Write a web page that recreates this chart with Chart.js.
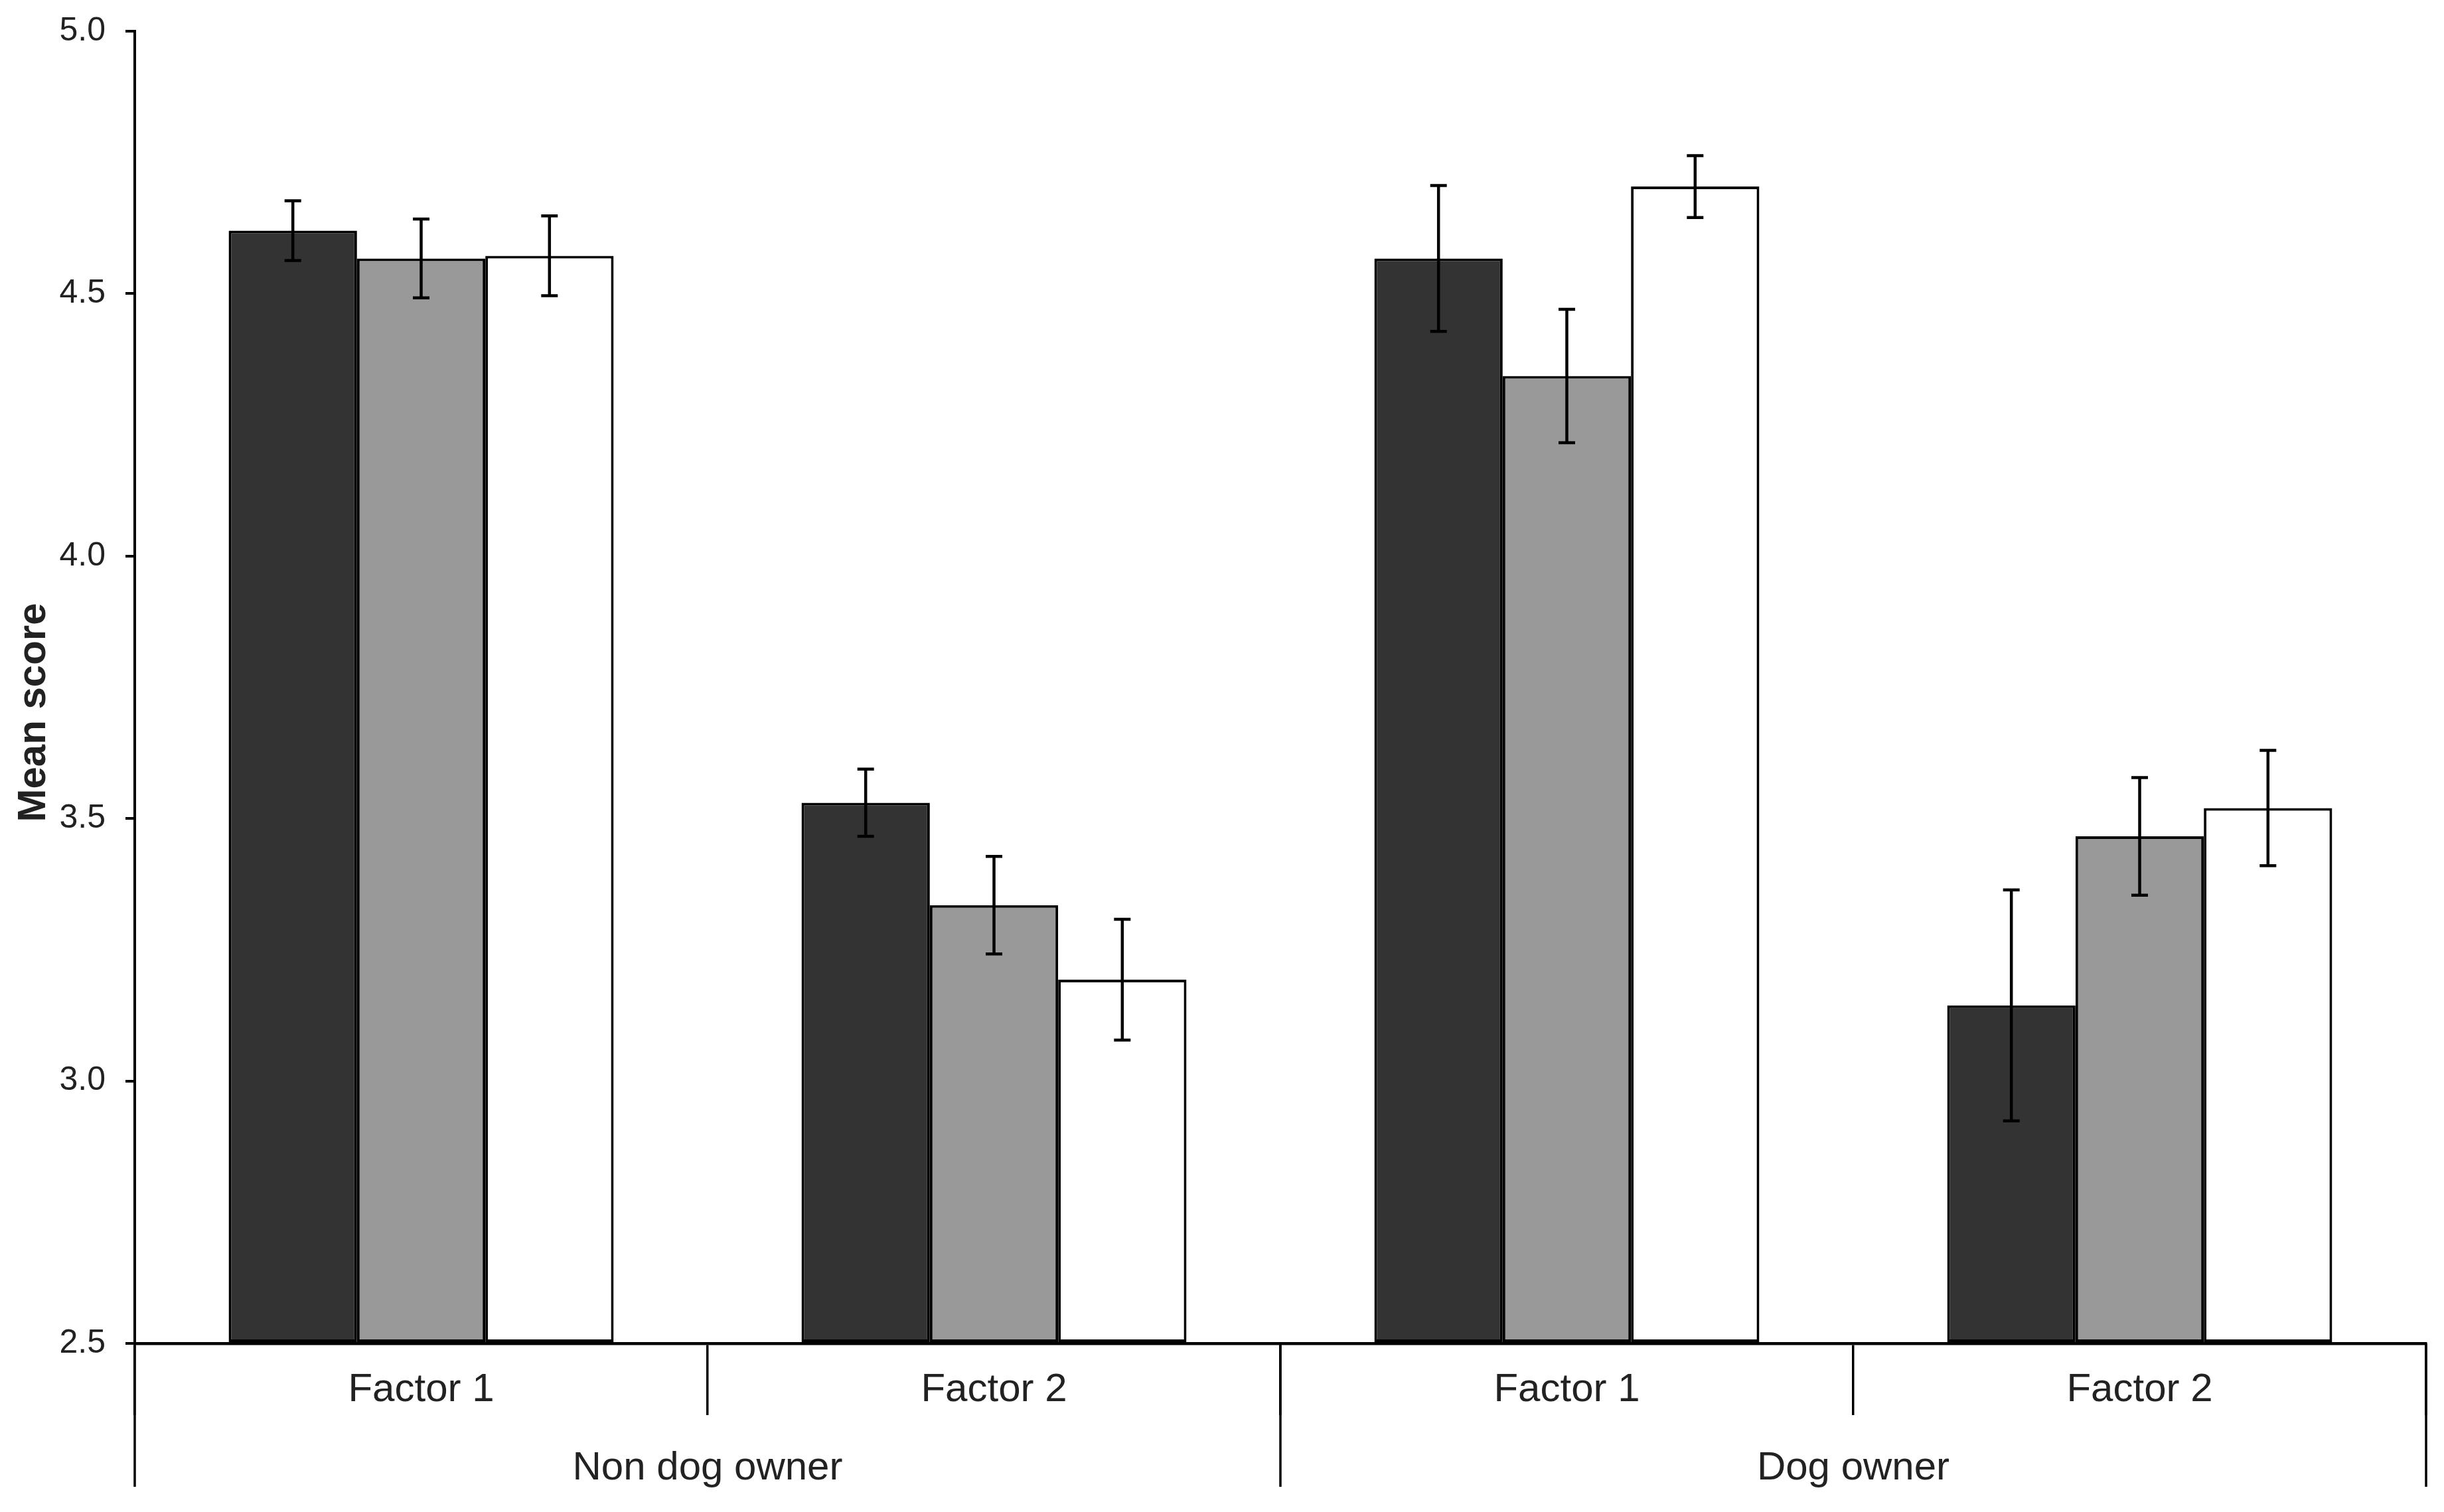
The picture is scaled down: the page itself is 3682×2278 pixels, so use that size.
<!DOCTYPE html>
<html>
<head>
<meta charset="utf-8">
<script src="https://cdn.jsdelivr.net/npm/chart.js@4.4.1/dist/chart.umd.min.js"></script>
<style>
  html, body { margin: 0; padding: 0; background: #fff; }
  canvas { display: block; }
</style>
</head>
<body>
<canvas id="chart" width="3682" height="2278"></canvas>
<script>
// categories along the x axis, and the owner groups under them
const categories = ["Factor 1", "Factor 2", "Factor 1", "Factor 2"];
const groups = ["Non dog owner", "Dog owner"];

// mean scores and error bar half-lengths, one array per bar shade
const darkMeans = [4.62, 3.53, 4.567, 3.144];
const darkErr = [0.057, 0.064, 0.139, 0.22];
const grayMeans = [4.567, 3.335, 4.343, 3.466];
const grayErr = [0.075, 0.093, 0.127, 0.112];
const whiteMeans = [4.572, 3.193, 4.704, 3.52];
const whiteErr = [0.076, 0.115, 0.059, 0.11];

const yTicks = [2.5, 3.0, 3.5, 4.0, 4.5, 5.0];

const FONT = "'Liberation Sans', Arial, sans-serif";
const INK = "#222";

const errorBars = {
  id: "errorBars",
  afterDatasetsDraw(chart) {
    const ctx = chart.ctx;
    const y = chart.scales.y;
    ctx.save();
    ctx.strokeStyle = "#000";
    ctx.lineWidth = 4.5;
    chart.data.datasets.forEach((ds, i) => {
      const meta = chart.getDatasetMeta(i);
      meta.data.forEach((bar, j) => {
        const top = y.getPixelForValue(ds.data[j] + ds.errors[j]);
        const bot = y.getPixelForValue(ds.data[j] - ds.errors[j]);
        ctx.beginPath();
        ctx.moveTo(bar.x, top);
        ctx.lineTo(bar.x, bot);
        ctx.moveTo(bar.x - 12.5, top);
        ctx.lineTo(bar.x + 12.5, top);
        ctx.moveTo(bar.x - 12.5, bot);
        ctx.lineTo(bar.x + 12.5, bot);
        ctx.stroke();
      });
    });
    ctx.restore();
  }
};

const groupAxis = {
  id: "groupAxis",
  afterDraw(chart) {
    const ctx = chart.ctx;
    const x = chart.scales.x;
    const area = chart.chartArea;
    const half = (x.getPixelForValue(1) - x.getPixelForValue(0)) / 2;
    ctx.save();
    ctx.strokeStyle = "#000";
    ctx.lineWidth = 3.5;
    // long separators at the group boundaries
    const edges = [x.getPixelForValue(0) - half, x.getPixelForValue(1) + half, x.getPixelForValue(3) + half];
    edges.forEach((px) => {
      ctx.beginPath();
      ctx.moveTo(px, area.bottom);
      ctx.lineTo(px, area.bottom + 216);
      ctx.stroke();
    });
    ctx.fillStyle = INK;
    ctx.font = "60px " + FONT;
    ctx.textAlign = "center";
    ctx.textBaseline = "alphabetic";
    groups.forEach((g, k) => {
      const cx = (x.getPixelForValue(2 * k) + x.getPixelForValue(2 * k + 1)) / 2;
      ctx.fillText(g, cx, area.bottom + 205);
    });
    // y axis title
    ctx.font = "bold 60px " + FONT;
    ctx.translate(68, (area.top + area.bottom) / 2 + 38);
    ctx.rotate(-Math.PI / 2);
    ctx.fillText("Mean score", 0, 0);
    ctx.restore();
  }
};

const barStyle = { borderColor: "#000", borderWidth: 4, borderSkipped: false };

new Chart(document.getElementById("chart"), {
  type: "bar",
  data: {
    labels: categories,
    datasets: [
      Object.assign({ label: "A", data: darkMeans, errors: darkErr, backgroundColor: "#333333" }, barStyle),
      Object.assign({ label: "B", data: grayMeans, errors: grayErr, backgroundColor: "#999999" }, barStyle),
      Object.assign({ label: "C", data: whiteMeans, errors: whiteErr, backgroundColor: "#ffffff" }, barStyle)
    ]
  },
  options: {
    responsive: false,
    animation: false,
    devicePixelRatio: 1,
    layout: { padding: { top: 47, right: 27, left: 0, bottom: 0 } },
    datasets: { bar: { categoryPercentage: 0.672, barPercentage: 1.0, base: 2.5 } },
    plugins: { legend: { display: false }, tooltip: { enabled: false } },
    scales: {
      x: {
        type: "category",
        grid: {
          offset: true,
          drawOnChartArea: false,
          drawTicks: true,
          tickLength: 108,
          color: "#000",
          lineWidth: 3.5
        },
        border: { display: true, color: "#000", width: 4.5 },
        ticks: { color: INK, font: { family: FONT, size: 60 }, padding: -74, maxRotation: 0, autoSkip: false },
        afterFit(scale) { scale.height = 254; }
      },
      y: {
        min: 2.5,
        max: 5.0,
        afterBuildTicks(scale) { scale.ticks = yTicks.map((v) => ({ value: v })); },
        ticks: {
          color: INK,
          font: { family: FONT, size: 50 },
          padding: 30,
          callback: (v) => Number(v).toFixed(1)
        },
        grid: { drawOnChartArea: false, drawTicks: true, tickLength: 14, color: "#000", lineWidth: 4 },
        border: { display: true, color: "#000", width: 4 },
        afterFit(scale) {
          scale.width = 203;
          scale.paddingTop = 0;
          scale.paddingBottom = 0;
        }
      }
    }
  },
  plugins: [errorBars, groupAxis]
});
</script>
</body>
</html>
